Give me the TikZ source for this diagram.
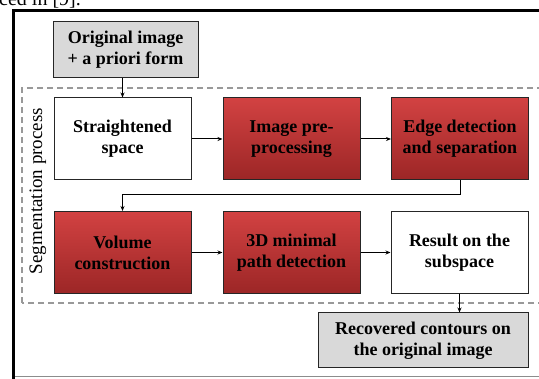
\documentclass[tikz,border=0pt]{standalone}
\usepackage{fontspec}
\setmainfont{Liberation Serif}
\usetikzlibrary{arrows.meta}
\definecolor{redtop}{HTML}{D24242}
\definecolor{redbot}{HTML}{9C2626}
\definecolor{grayfill}{HTML}{D9D9D9}
\begin{document}
\begin{tikzpicture}[x=1pt,y=-1pt,
  box/.style={draw=black!85,line width=1pt,inner sep=0pt,align=center,
    font=\fontsize{18}{21}\selectfont\bfseries},
  whitebox/.style={box,fill=white,minimum width=137pt,minimum height=82pt},
  redbox/.style={box,top color=redtop,bottom color=redbot,minimum width=137pt,minimum height=82pt},
  graybox/.style={box,fill=grayfill},
  conn/.style={line width=1pt,-{Stealth[length=5pt,width=4pt]}}]
\useasboundingbox (0,0) rectangle (539,379);
\clip (0,0) rectangle (539,379);
% caption fragment
\node[anchor=base west,inner sep=0pt,font=\fontsize{20}{22}\selectfont] (cap) at (-1,6) {ced in [9].};
% outer frame
\draw[black!45,line width=1pt] (14,377) -- (545,377);
\draw[black,line width=3pt] (13.5,385) -- (13.5,11) -- (545,11);
% dashed segmentation region
\draw[black!40,line width=1.1pt,dash pattern=on 6pt off 4pt] (22,303) rectangle (548,88);
\node[rotate=90,font=\fontsize{19}{21}\selectfont,inner sep=0pt] (seg) at (38,191) {Segmentation process};
% boxes
\node[graybox,minimum width=145pt,minimum height=56pt] (orig) at (125.5,50) {Original image\\+ a priori form};
\node[whitebox] (str) at (122.5,139) {Straightened\\space};
\node[redbox] (pre) at (291.5,139) {Image pre-\\processing};
\node[redbox] (edge) at (460,139) {Edge detection\\and separation};
\node[redbox] (vol) at (122.5,252.5) {Volume\\construction};
\node[redbox] (path) at (291.5,252.5) {3D minimal\\path detection};
\node[whitebox] (res) at (459.5,252.5) {Result on the\\subspace};
\node[graybox,minimum width=210pt,minimum height=55pt] (rec) at (423,340.5) {Recovered contours on\\the original image};
% connectors
\draw[conn] (orig.south -| str.north) -- (str.north);
\draw[conn] (str) -- (pre);
\draw[conn] (pre) -- (edge);
\coordinate (c1) at (460,195);
\coordinate (c2) at (122.5,195);
\draw[conn] (edge.south) -- (c1) -- (c2) -- (vol.north);
\draw[conn] (vol) -- (path);
\draw[conn] (path) -- (res);
\draw[conn] (res.south) -- (res.south |- rec.north);
\end{tikzpicture}
\end{document}
